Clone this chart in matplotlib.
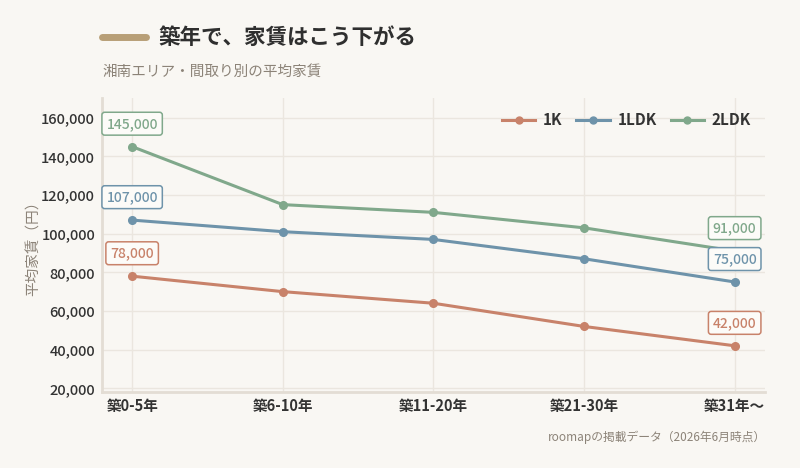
import matplotlib.pyplot as plt
from matplotlib.lines import Line2D

plt.rcParams['font.family'] = ['Noto Sans CJK JP', 'DejaVu Sans']

categories = ['築0-5年', '築6-10年', '築11-20年', '築21-30年', '築31年〜']
rent_1k = [78000, 70000, 64000, 52000, 42000]
rent_1ldk = [107000, 101000, 97000, 87000, 75000]
rent_2ldk = [145000, 115000, 111000, 103000, 91000]

series = [
    ('1K', rent_1k, '#c8826a'),
    ('1LDK', rent_1ldk, '#6e93aa'),
    ('2LDK', rent_2ldk, '#80a88b'),
]

bg = '#f9f7f3'
fig = plt.figure(figsize=(8, 4.68), dpi=100, facecolor=bg)
ax = fig.add_axes([0.1275, 0.162, 0.8285, 0.628], facecolor=bg)

x = list(range(len(categories)))
for name, vals, color in series:
    ax.plot(x, vals, color=color, lw=2.2, marker='o', markersize=5.5,
            solid_capstyle='round', label=name, zorder=3)
    for i in (0, len(vals) - 1):
        ax.annotate(f'{vals[i]:,}', (x[i], vals[i]), xytext=(0, 16.5),
                    textcoords='offset points', ha='center', va='center',
                    fontsize=10, fontweight='medium', color=color, zorder=5,
                    bbox=dict(boxstyle='round,pad=0.32,rounding_size=0.2',
                              fc='#fcfbf8', ec=color, lw=1.1))

ax.set_xlim(-0.2, 4.2)
ax.set_ylim(18000, 170000)
ax.set_yticks(range(20000, 160001, 20000))
ax.yaxis.set_major_formatter(plt.FuncFormatter(lambda v, p: f'{int(v):,}'))
ax.set_xticks(x)
ax.set_xticklabels(categories, fontweight='bold')
for t in ax.get_yticklabels():
    t.set_fontweight('medium')
ax.tick_params(axis='x', length=0, labelsize=10.5, colors='#333333', pad=4)
ax.tick_params(axis='y', length=0, labelsize=10.5, colors='#333333', pad=5)
ax.grid(True, color='#ebe6df', lw=1, zorder=0)
for s in ('top', 'right'):
    ax.spines[s].set_visible(False)
for s in ('left', 'bottom'):
    ax.spines[s].set_color('#e3ddd4')
    ax.spines[s].set_linewidth(2)

ax.set_ylabel('平均家賃（円）', fontsize=10.5, color='#8c8378', labelpad=0)

handles = [Line2D([0], [0], color=c, lw=2.2, marker='o', markersize=5) for _, _, c in series]
leg = ax.legend(handles, [n for n, _, _ in series], loc='upper right', ncol=3,
                frameon=False, fontsize=11, handlelength=2.2, columnspacing=0.9,
                handletextpad=0.5, bbox_to_anchor=(1.0, 1.0))
for t in leg.get_texts():
    t.set_fontweight('bold')
    t.set_color('#333333')

fig.add_artist(Line2D([0.128, 0.183], [0.921, 0.921], color='#b89f77', lw=5,
                      solid_capstyle='round'))
fig.text(0.198, 0.921, '築年で、家賃はこう下がる', fontsize=15.5, fontweight='bold',
         color='#2f2f2f', va='center')
fig.text(0.128, 0.846, '湘南エリア・間取り別の平均家賃', fontsize=10.5,
         color='#8c8378', va='center')
fig.text(0.957, 0.066, 'roomapの掲載データ（2026年6月時点）', fontsize=8.5,
         color='#8c8378', ha='right', va='center')

fig.savefig('out.png', dpi=100, facecolor=bg)
